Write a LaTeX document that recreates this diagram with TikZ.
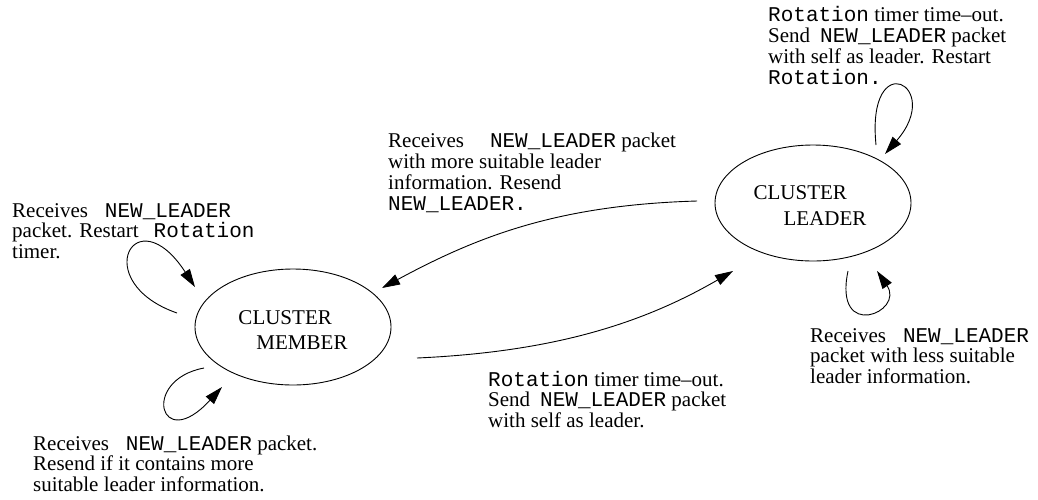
\documentclass[tikz,border=0pt]{standalone}
\usepackage{fontspec}
\setmainfont{Liberation Serif}
\setmonofont{Liberation Mono}
\usetikzlibrary{arrows.meta,shapes.geometric}
\newcommand{\tx}[1]{\texttt{#1}}
\tikzset{
  state/.style={draw, ellipse, line width=0.9pt, minimum width=196pt, minimum height=116pt,
    inner sep=0pt},
  stext/.style={inner sep=0pt, align=left, font=\fontsize{21pt}{25.5pt}\selectfont},
  lbl/.style={anchor=base west, inner sep=0pt, align=left, font=\fontsize{21pt}{20.7pt}\selectfont},
  arr/.style={line width=0.9pt, -{Triangle[length=18pt,width=11pt]}},
}
\begin{document}
\begin{tikzpicture}[x=1pt,y=-1pt]
\useasboundingbox (0,0) rectangle (1038,499);
\node[state] (member) at (293,327) {};
\node[stext] (membertext) at (293,330) {CLUSTER\\\hspace*{18pt}MEMBER};
\node[state] (leader) at (813,203) {};
\node[stext] (leadertext) at (810,205.5) {CLUSTER\\\hspace*{30pt}LEADER};

\coordinate (m1s) at (177,313); \coordinate (m1e) at (195,287);
\coordinate (m2s) at (204,368); \coordinate (m2e) at (222,387);
\coordinate (l1s) at (876,145); \coordinate (l1e) at (885,154);
\coordinate (l2s) at (848,271); \coordinate (l2e) at (877,271);
\coordinate (lm) at (697,201); \coordinate (ml) at (417,358);
\coordinate (lmtip) at (382,288); \coordinate (mltip) at (733,271);

\draw[arr] (lm) .. controls (560,205) and (480,235) .. (lmtip);
\draw[arr] (ml) .. controls (550,352) and (640,325) .. (mltip);
\draw[arr] (m1s) .. controls (88,282) and (135,195) .. (m1e);
\draw[arr] (m2s) .. controls (140,380) and (160,455) .. (m2e);
\draw[arr] (l1s) .. controls (866,45) and (945,85) .. (l1e);
\draw[arr] (l2s) .. controls (833,342) and (905,312) .. (l2e);

\node[lbl] (t1) at (12,258.4) {Receives\hspace{17pt}\tx{NEW\_LEADER}\\packet. Restart\hspace{15pt}\tx{Rotation}\\timer.};
\node[lbl] (t2) at (388,210) {Receives\hspace{26pt}\tx{NEW\_LEADER} packet\\with more suitable leader\\information. Resend\\\tx{NEW\_LEADER.}};
\node[lbl] (t3) at (768,84) {\tx{Rotation} timer time--out.\\Send\hspace{10pt}\tx{NEW\_LEADER} packet\\with self as leader. Restart\\\tx{Rotation.}};
\node[lbl] (t4) at (488,427.4) {\tx{Rotation} timer time--out.\\Send\hspace{10pt}\tx{NEW\_LEADER} packet\\with self as leader.};
\node[lbl] (t5) at (33,491.4) {Receives\hspace{17pt}\tx{NEW\_LEADER} packet.\\Resend if it contains more\\suitable leader information.};
\node[lbl] (t6) at (810,383.4) {Receives\hspace{17pt}\tx{NEW\_LEADER}\\packet with less suitable\\leader information.};
\end{tikzpicture}
\end{document}
